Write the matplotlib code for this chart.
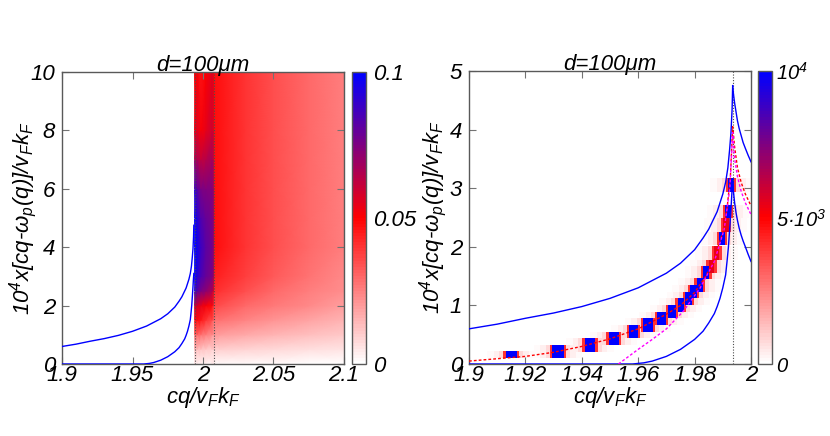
import numpy as np
import matplotlib
matplotlib.use("Agg")
import matplotlib.pyplot as plt
from matplotlib.colors import LinearSegmentedColormap, Normalize
from matplotlib.cm import ScalarMappable

plt.rcParams['font.family'] = ['Liberation Sans', 'DejaVu Sans']
plt.rcParams['font.style'] = 'italic'
plt.rcParams['mathtext.fontset'] = 'custom'
plt.rcParams['mathtext.rm'] = 'Liberation Sans:italic'
plt.rcParams['mathtext.it'] = 'Liberation Sans:italic'
plt.rcParams['mathtext.default'] = 'rm'

# ---------------- data ----------------
title = "d=100\u03bcm"
xlabel = "cq/v$_F$k$_F$"
ylabel = "10$^4$x[cq-\u03c9$_p$(q)]/v$_F$k$_F$"

left_xticks = [1.9, 1.95, 2.0, 2.05, 2.1]
left_xticklabels = ["1.9", "1.95", "2", "2.05", "2.1"]
left_yticks = [0, 2, 4, 6, 8, 10]
left_cb_ticks = [0, 0.05, 0.1]
left_cb_labels = ["0", "0.05", "0.1"]

right_xticks = [1.9, 1.92, 1.94, 1.96, 1.98, 2.0]
right_xticklabels = ["1.9", "1.92", "1.94", "1.96", "1.98", "2"]
right_yticks = [0, 1, 2, 3, 4, 5]
right_cb_ticks = [0, 5000, 10000]
right_cb_labels = ["0", "5\u00b710$^3$", "10$^4$"]

# left heat map: coarse grid of values
left_x_knots = [1.9, 1.9939, 1.9941, 1.996, 1.9985, 2.002, 2.0065, 2.0078,
                2.0082, 2.012, 2.03, 2.05, 2.075, 2.1]
left_y_knots = [0, 0.5, 1, 1.5, 2, 2.5, 3, 4, 5, 6, 7, 8, 10]
left_grid = [
    [0, 0, 0.003, 0.003, 0.003, 0.003, 0.003, 0.003, 0.0015, 0.0015, 0.0013, 0.0011, 0.0009, 0.0008],
    [0, 0, 0.012, 0.013, 0.012, 0.011, 0.010, 0.010, 0.010, 0.010, 0.009, 0.008, 0.007, 0.006],
    [0, 0, 0.028, 0.030, 0.028, 0.025, 0.022, 0.020, 0.020, 0.019, 0.017, 0.015, 0.013, 0.011],
    [0, 0, 0.045, 0.047, 0.045, 0.040, 0.035, 0.030, 0.028, 0.028, 0.024, 0.021, 0.018, 0.015],
    [0, 0, 0.060, 0.058, 0.055, 0.052, 0.048, 0.042, 0.036, 0.035, 0.030, 0.027, 0.023, 0.019],
    [0, 0, 0.090, 0.082, 0.076, 0.072, 0.066, 0.056, 0.041, 0.040, 0.035, 0.030, 0.026, 0.022],
    [0, 0, 0.100, 0.092, 0.085, 0.080, 0.076, 0.068, 0.044, 0.043, 0.038, 0.033, 0.028, 0.0235],
    [0, 0, 0.100, 0.096, 0.088, 0.082, 0.078, 0.070, 0.047, 0.046, 0.040, 0.035, 0.030, 0.025],
    [0, 0, 0.100, 0.092, 0.084, 0.080, 0.077, 0.070, 0.047, 0.046, 0.040, 0.035, 0.030, 0.025],
    [0, 0, 0.090, 0.082, 0.076, 0.074, 0.074, 0.068, 0.047, 0.046, 0.040, 0.035, 0.030, 0.025],
    [0, 0, 0.066, 0.066, 0.062, 0.064, 0.068, 0.062, 0.047, 0.046, 0.040, 0.035, 0.030, 0.025],
    [0, 0, 0.054, 0.056, 0.052, 0.055, 0.060, 0.056, 0.047, 0.046, 0.040, 0.035, 0.030, 0.025],
    [0, 0, 0.050, 0.052, 0.046, 0.050, 0.056, 0.052, 0.047, 0.046, 0.040, 0.035, 0.030, 0.025],
]
left_dotted = [1.9941, 2.0078]

# right heat map: isolated cells (x0, x1, y0, y1, value)
cell_x0 = [1.9130, 1.9295, 1.9410, 1.9495, 1.9569, 1.9618, 1.9668, 1.9707, 1.9740, 1.9767,
           1.9785, 1.9807, 1.9830, 1.9850, 1.9868, 1.9888, 1.9900, 1.9908, 1.9920]
cell_x1 = [1.9171, 1.9337, 1.9448, 1.9532, 1.9600, 1.9651, 1.9697, 1.9733, 1.9763, 1.9790,
           1.9808, 1.9830, 1.9852, 1.9870, 1.9888, 1.9908, 1.9922, 1.9928, 1.9940]
cell_y0 = [0.10, 0.10, 0.21, 0.32, 0.44, 0.55, 0.67, 0.78, 0.89, 1.00,
           1.12, 1.23, 1.45, 1.56, 1.78, 2.03, 2.26, 2.49, 2.94]
cell_y1 = [0.22, 0.32, 0.44, 0.55, 0.67, 0.78, 0.89, 1.00, 1.12, 1.23,
           1.35, 1.46, 1.68, 1.78, 2.01, 2.26, 2.49, 2.71, 3.17]
cell_v = [10000, 10000, 10000, 10000, 10000, 10000, 10000, 10000, 10000, 10000,
          10000, 10000, 10000, 5500, 5500, 10000, 5500, 10000, 10000]
right_dotted = [1.9935]

# curves
upper_left_x = [1.9, 1.91, 1.92, 1.93, 1.94, 1.95, 1.96, 1.97, 1.975, 1.98, 1.983, 1.985,
                1.987, 1.988, 1.989, 1.99, 1.991, 1.9918, 1.9924, 1.9929, 1.9933, 1.9935]
upper_left_y = [0.6, 0.68, 0.78, 0.87, 0.98, 1.12, 1.3, 1.55, 1.72, 1.95, 2.15, 2.3,
                2.5, 2.6, 2.75, 2.9, 3.1, 3.35, 3.65, 3.95, 4.35, 4.75]
upper_right_x = [1.9935, 1.9938, 1.9942, 1.9947, 1.9952, 1.9958, 1.9965, 1.9972, 1.998, 1.999, 2.0]
upper_right_y = [4.75, 4.6, 4.45, 4.3, 4.15, 4.02, 3.9, 3.78, 3.68, 3.56, 3.45]
lower_left_x = [1.9, 1.958, 1.962, 1.965, 1.97, 1.975, 1.98, 1.983, 1.985, 1.987, 1.988,
                1.989, 1.99, 1.991, 1.9915, 1.992, 1.9925, 1.9929, 1.9932, 1.9935]
lower_left_y = [0, 0, 0.02, 0.05, 0.13, 0.25, 0.42, 0.56, 0.7, 0.86, 0.98,
                1.12, 1.3, 1.52, 1.75, 2.0, 2.35, 2.65, 2.9, 3.1]
lower_right_x = [1.9935, 1.9938, 1.9942, 1.9947, 1.9952, 1.9958, 1.9965, 1.9972, 1.998, 1.999, 2.0]
lower_right_y = [3.1, 2.93, 2.75, 2.58, 2.45, 2.32, 2.2, 2.1, 2.0, 1.87, 1.75]
red_x = [1.9, 1.91, 1.92, 1.93, 1.94, 1.95, 1.96, 1.97, 1.975, 1.98, 1.984, 1.987,
         1.99, 1.9915, 1.9927, 1.9935, 1.9942, 1.9952, 1.9965, 1.998, 2.0]
red_y = [0.05, 0.09, 0.13, 0.2, 0.3, 0.43, 0.6, 0.85, 1.0, 1.22, 1.5, 1.8,
         2.25, 2.65, 3.2, 4.05, 3.7, 3.35, 3.1, 2.9, 2.7]
mag_x = [1.953, 1.96, 1.965, 1.97, 1.976, 1.982, 1.987, 1.9905, 1.9925, 1.9935,
         1.9942, 1.9952, 1.9965, 1.998, 2.0]
mag_y = [0, 0.25, 0.42, 0.6, 0.9, 1.3, 1.75, 2.3, 3.0, 3.95,
         3.5, 3.2, 2.95, 2.75, 2.55]

# ---------------- styling ----------------
cmap = LinearSegmentedColormap.from_list(
    "wrb", [(0.0, (1, 1, 1)), (0.5, (1, 0, 0)), (1.0, (0, 0, 1))], N=96)
FS = 16
FRAME = '0.35'

W, H = 830, 436
fig = plt.figure(figsize=(W / 100, H / 100), dpi=100)
ax1 = fig.add_axes([62 / W, 72 / H, 282 / W, 292 / H])
cax1 = fig.add_axes([352 / W, 72 / H, 14 / W, 292 / H])
ax2 = fig.add_axes([469 / W, 72 / H, 282 / W, 293 / H])
cax2 = fig.add_axes([758 / W, 72 / H, 14 / W, 293 / H])


def style_axes(ax):
    for s in ax.spines.values():
        s.set_color(FRAME)
        s.set_linewidth(1.0)
    ax.tick_params(direction='in', top=True, right=True, length=5, width=0.8,
                   color='0.45', labelsize=FS)
    ax.tick_params(axis='x', pad=1)
    ax.tick_params(axis='y', pad=5)
    ax.set_title(title, fontsize=FS, pad=1)
    ax.set_xlabel(xlabel, fontsize=FS, labelpad=-1)
    ax.set_ylabel(ylabel, fontsize=FS)


def style_cbar(cax, mappable, ticks, labels, size, pad):
    cb = fig.colorbar(mappable, cax=cax)
    cb.set_ticks(ticks)
    cb.set_ticklabels(labels)
    cb.outline.set_edgecolor(FRAME)
    cb.outline.set_linewidth(1.0)
    cax.tick_params(length=0, labelsize=size, pad=pad)
    return cb


# ----- left panel -----
norm1 = Normalize(0, 0.1)
X, Y = np.meshgrid(left_x_knots, left_y_knots)
ax1.pcolormesh(X, Y, np.array(left_grid), cmap=cmap, norm=norm1, shading='gouraud',
               zorder=1)
for xd in left_dotted:
    ax1.axvline(xd, color='0.3', linestyle=(0, (1, 1.5)), linewidth=0.8, zorder=3)
ax1.plot(upper_left_x, upper_left_y, color='blue', lw=1.0, zorder=4)
ax1.plot(lower_left_x, lower_left_y, color='blue', lw=1.0, zorder=4)
ax1.set_xlim(1.9, 2.1)
ax1.set_ylim(0, 10)
ax1.set_xticks(left_xticks)
ax1.set_xticklabels(left_xticklabels)
ax1.set_yticks(left_yticks)
style_axes(ax1)
ax1.yaxis.set_label_coords(-0.08, 0.5)
style_cbar(cax1, ScalarMappable(norm=norm1, cmap=cmap), left_cb_ticks, left_cb_labels,
           FS, 5)

# ----- right panel -----
norm2 = Normalize(0, 10000)
x0 = np.array(cell_x0)
x1 = np.array(cell_x1)
y0 = np.array(cell_y0)
y1 = np.array(cell_y1)
hgt = y1 - y0
for ext, frac, z in [(0.0065, 0.012, 1), (0.0042, 0.035, 1.1), (0.0022, 0.08, 1.2),
                     (0.0008, 0.40, 1.3)]:
    ax2.bar(x0 - ext, hgt, width=(x1 - x0) + 2 * ext, bottom=y0, align='edge',
            color=cmap(frac), linewidth=0, zorder=z)
ax2.bar(x0, hgt, width=x1 - x0, bottom=y0, align='edge',
        color=[cmap(norm2(v)) for v in cell_v], linewidth=0, zorder=1.5)
for xd in right_dotted:
    ax2.axvline(xd, color='0.3', linestyle=(0, (1, 1.5)), linewidth=0.8, zorder=3)
ax2.plot(upper_left_x, upper_left_y, color='blue', lw=1.0, zorder=4)
ax2.plot(upper_right_x, upper_right_y, color='blue', lw=1.0, zorder=4)
ax2.plot(lower_left_x, lower_left_y, color='blue', lw=1.0, zorder=4)
ax2.plot(lower_right_x, lower_right_y, color='blue', lw=1.0, zorder=4)
ax2.plot(red_x, red_y, color='red', lw=1.0, linestyle=(0, (2, 1.5)), zorder=5)
ax2.plot(mag_x, mag_y, color='magenta', lw=1.0, linestyle=(0, (2, 1.5)), zorder=5)
ax2.set_xlim(1.9, 2.0)
ax2.set_ylim(0, 5)
ax2.set_xticks(right_xticks)
ax2.set_xticklabels(right_xticklabels)
ax2.set_yticks(right_yticks)
style_axes(ax2)
ax2.yaxis.set_label_coords(-0.07, 0.5)
style_cbar(cax2, ScalarMappable(norm=norm2, cmap=cmap), right_cb_ticks, right_cb_labels,
           14.5, 3)

fig.savefig("out.png", dpi=100)
